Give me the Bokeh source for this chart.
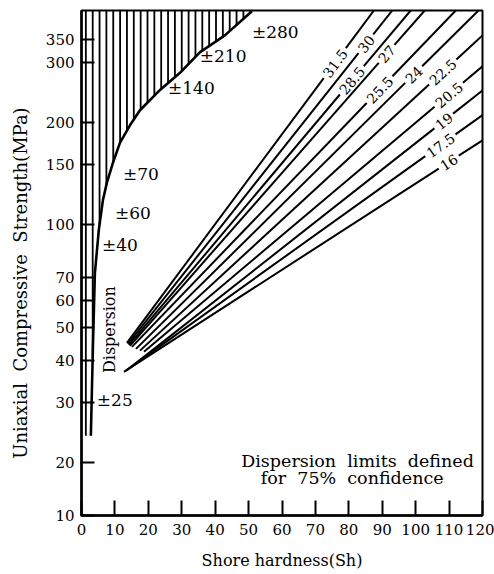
import math
import numpy as np
from bokeh.plotting import figure
from bokeh.models import FixedTicker, Range1d, PrintfTickFormatter
from bokeh.core.properties import value
from bokeh.embed import file_html
from bokeh.resources import INLINE

# ---------------- axes ----------------
x_ticks = [0, 10, 20, 30, 40, 50, 60, 70, 80, 90, 100, 110, 120]
x_tick_labels = ["0", "10", "20", "30", "40", "50", "60", "70", "80", "90", "100", "110", "120"]
y_ticks = [14, 20, 30, 40, 50, 60, 70, 100, 150, 200, 300, 350]
y_tick_labels = ["10", "20", "30", "40", "50", "60", "70", "100", "150", "200", "300", "350"]
x_min, x_max = 0, 120
y_min, y_max = 14, 426

# ---------------- unit-weight lines ----------------
line_labels = ["31.5", "30", "28.5", "27", "25.5", "24", "22.5", "20.5", "19", "17.5", "16"]
line_x0 = [13.6, 13.9, 14.2, 14.5, 15.1, 16.3, 17.5, 18.7, 14.2, 13.3, 12.7]
line_y0 = [45.0, 44.7, 44.4, 44.1, 43.8, 43.2, 42.7, 42.4, 37.8, 37.3, 37.0]
line_x1 = [87.5, 93.0, 98.5, 102.7, 112.0, 118.8, 120, 120, 120, 120, 120]
line_y1 = [426, 426, 426, 426, 426, 426, 360, 292, 248, 210, 177]
line_label_x = [75.8, 85.1, 80.9, 91.3, 89.2, 99.4, 108.1, 109.9, 108.4, 107.4, 109.9]

# ---------------- dispersion limit curve ----------------
curve_x = [2.8, 3.4, 4.0, 5.2, 6.4, 7.6, 9.4, 11.5, 14.5, 17.5, 23.5, 29.4, 35.4, 42.9, 51.0]
curve_y = [24, 43, 72, 97, 118, 133, 152, 174, 196, 217, 249, 279, 321, 360, 424]

disp_labels = ["±25", "±40", "±60", "±70", "±140", "±210", "±280"]
disp_label_x = [4.6, 6.1, 10.0, 12.4, 25.9, 35.4, 51.0]
disp_label_y = [30.6, 87.3, 108.3, 141.0, 252.8, 312.7, 368.4]

SERIF = "DejaVu Serif"
NB = "\u00a0"
W, H = 494, 574
ML, MR, MT, MB = 81, 12, 10, 59

p = figure(width=W, height=H, x_range=Range1d(x_min, x_max), y_range=Range1d(y_min, y_max),
           y_axis_type="log", output_backend="svg", toolbar_location=None,
           min_border_left=ML, min_border_right=MR, min_border_top=MT, min_border_bottom=MB,
           background_fill_color="white", border_fill_color="white")
p.xgrid.visible = False
p.ygrid.visible = False
p.outline_line_color = "black"
p.outline_line_width = 2

# x axis
p.xaxis.ticker = FixedTicker(ticks=x_ticks)
p.xaxis.major_label_overrides = {t: l for t, l in zip(x_ticks, x_tick_labels)}
p.xaxis.axis_label = "Shore hardness(Sh)"
p.xaxis.axis_label_standoff = 13
# y axis
p.yaxis.ticker = FixedTicker(ticks=y_ticks)
p.yaxis.formatter = PrintfTickFormatter(format="%d")
p.yaxis.major_label_overrides = {t: l for t, l in zip(y_ticks, y_tick_labels)}
p.yaxis.axis_label = ("Uniaxial" + NB * 2 + "Compressive" + NB * 2 + "Strength(MPa)" + NB * 7)
p.yaxis.axis_label_standoff = 12
for ax in (p.xaxis, p.yaxis):
    ax.axis_line_width = 2.5
    ax.axis_line_color = "black"
    ax.major_tick_line_width = 2
    ax.major_tick_line_color = "black"
    ax.minor_tick_line_color = None
    ax.major_label_text_font = SERIF
    ax.major_label_text_font_size = "15px"
    ax.major_label_text_color = "black"
    ax.axis_label_text_font = SERIF
    ax.axis_label_text_font_size = "18px"
    ax.axis_label_text_font_style = "normal"
    ax.axis_label_text_color = "black"
p.xaxis.axis_label_text_font_size = "16px"
p.xaxis.major_tick_in = 15
p.xaxis.major_tick_out = 0
p.xaxis.major_label_standoff = 8
p.yaxis.major_tick_in = 13
p.yaxis.major_tick_out = 1
p.yaxis.major_label_standoff = 6

# screen scale helpers (for gaps / text angles)
fw = W - ML - MR
fh = H - MT - MB
sx = fw / (x_max - x_min)
sy = fh / (math.log10(y_max) - math.log10(y_min))

# ---------------- hatched dispersion zone ----------------
lcx = np.log10(curve_y)
hatch_x = np.arange(1.3, curve_x[-1], 2.05)
hatch_bot = 10 ** np.interp(hatch_x, curve_x, lcx)
p.segment(x0=hatch_x, y0=hatch_bot, x1=hatch_x, y1=[y_max] * len(hatch_x),
          line_color="black", line_width=1.8)
p.line(curve_x, curve_y, line_color="black", line_width=2.6)

for lab, lx, ly in zip(disp_labels, disp_label_x, disp_label_y):
    p.text(x=[lx], y=[ly], text=[lab], text_font=value(SERIF), text_font_size="17px",
           text_align="left", text_baseline="middle", text_color="black")

p.text(x=[8.5], y=[49.2], text=["Dispersion"], angle=math.pi / 2, text_font=value(SERIF),
       text_font_size="16px", text_align="center", text_baseline="middle", text_color="black")

# ---------------- unit-weight lines with inline labels ----------------
LAB_FS = 14
for lab, x0, y0, x1, y1, lxv in zip(line_labels, line_x0, line_y0, line_x1, line_y1, line_label_x):
    ly0, ly1 = math.log10(y0), math.log10(y1)
    dxp = (x1 - x0) * sx
    dyp = (ly1 - ly0) * sy
    L = math.hypot(dxp, dyp)
    t = (lxv - x0) / (x1 - x0)
    wtxt = LAB_FS * (0.636 * sum(c.isdigit() for c in lab) + 0.318 * lab.count("."))
    g = (wtxt / 2 + 3) / L
    ta, tb = t - g, t + g
    seg_x0 = [x0, x0 + tb * (x1 - x0)]
    seg_y0 = [y0, 10 ** (ly0 + tb * (ly1 - ly0))]
    seg_x1 = [x0 + ta * (x1 - x0), x1]
    seg_y1 = [10 ** (ly0 + ta * (ly1 - ly0)), y1]
    p.segment(x0=seg_x0, y0=seg_y0, x1=seg_x1, y1=seg_y1, line_color="black", line_width=2)
    lyv = 10 ** (ly0 + t * (ly1 - ly0))
    ang = math.atan2(dyp, dxp)
    p.text(x=[lxv], y=[lyv], text=[lab], angle=ang, text_font=value(SERIF),
           text_font_size=f"{LAB_FS}px", text_align="center", text_baseline="middle",
           text_color="black")

# ---------------- note ----------------
p.text(x=[82.6, 81.0], y=[20.3, 18.0],
       text=["Dispersion" + NB * 2 + "limits" + NB * 2 + "defined",
             "for" + NB * 2 + "75%" + NB * 2 + "confidence"],
       text_font=value(SERIF), text_font_size="17.5px", text_align="center",
       text_baseline="middle", text_color="black")

open("out.html", "w").write(file_html(p, INLINE))
